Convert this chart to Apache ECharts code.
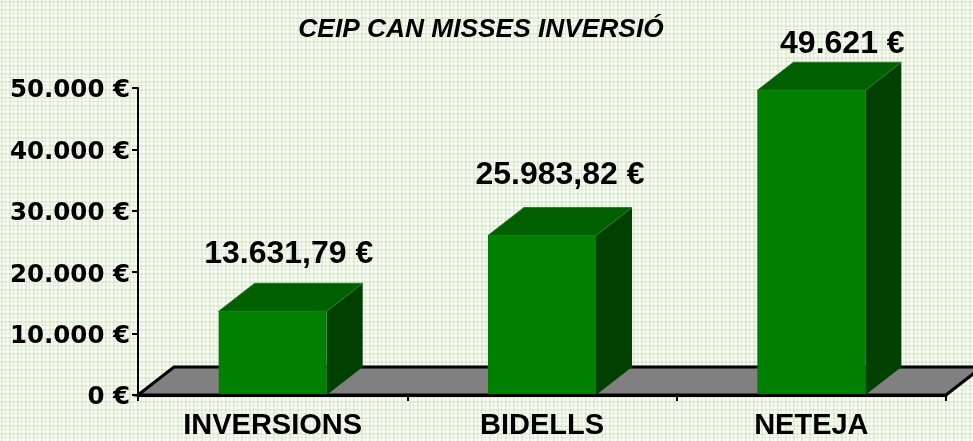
<!DOCTYPE html>
<html>
<head>
<meta charset="utf-8">
<style>
  html, body { margin: 0; padding: 0; background: #fff; }
  #chart { width: 973px; height: 441px; }
</style>
<script src="https://cdn.jsdelivr.net/npm/echarts@6/dist/echarts.min.js"></script>
</head>
<body>
<div id="chart"></div>
<script>
const categories = ['INVERSIONS', 'BIDELLS', 'NETEJA'];
const values = [13631.79, 25983.82, 49621];
const valueLabels = ['13.631,79 €', '25.983,82 €', '49.621 €'];
const titleText = 'CEIP CAN MISSES INVERSIÓ';

// 3D look, in pixels
const DEPTH_X = 36;
const DEPTH_Y = 28;
const BAR_WIDTH = 108;
// The labels were placed by hand in the original, so each has its own nudge
const LABEL_NUDGE = [[16, -29], [18, -32], [31, -18]];

// Checked paper background
const makePattern = () => {
  const c = document.createElement('canvas');
  c.width = 8;
  c.height = 8;
  const ctx = c.getContext('2d');
  ctx.fillStyle = '#fbfdf8';
  ctx.fillRect(0, 0, 8, 8);
  ctx.fillStyle = 'rgba(200,228,180,0.5)';
  ctx.fillRect(1, 0, 2, 8);
  ctx.fillRect(0, 1, 8, 2);
  ctx.fillRect(5, 0, 1, 8);
  ctx.fillRect(0, 5, 8, 1);
  return c;
};

const chart = echarts.init(document.getElementById('chart'), null, { renderer: 'canvas' });

const renderBar = (params, api) => {
  const [cx, top] = api.coord([api.value(0), api.value(1)]);
  const [, base] = api.coord([api.value(0), 0]);
  const x0 = cx - BAR_WIDTH / 2;
  const x1 = cx + BAR_WIDTH / 2;
  const [nudgeX, nudgeY] = LABEL_NUDGE[params.dataIndex];
  return {
    type: 'group',
    children: [
      {
        type: 'polygon',
        shape: { points: [[x1, top], [x1 + DEPTH_X, top - DEPTH_Y], [x1 + DEPTH_X, base - DEPTH_Y], [x1, base]] },
        style: { fill: '#004000' },
      },
      {
        type: 'polygon',
        shape: { points: [[x0, top], [x0 + DEPTH_X, top - DEPTH_Y], [x1 + DEPTH_X, top - DEPTH_Y], [x1, top]] },
        style: { fill: '#006000', stroke: '#2a7a2a', lineWidth: 1 },
      },
      {
        type: 'rect',
        shape: { x: x0, y: top, width: BAR_WIDTH, height: base - top },
        style: { fill: '#008000' },
      },
      {
        type: 'text',
        x: cx + nudgeX,
        y: top - DEPTH_Y + nudgeY,
        style: {
          text: valueLabels[params.dataIndex],
          fill: '#000',
          font: 'bold 32px "Liberation Sans"',
          align: 'center',
          verticalAlign: 'middle',
        },
      },
    ],
  };
};

// Grey floor under the bars, hangs off the category axis
const renderFloor = (params, api) => {
  const { x, y, width, height } = params.coordSys;
  const base = y + height;
  return {
    type: 'polygon',
    shape: {
      points: [[x, base], [x + DEPTH_X, base - DEPTH_Y], [x + width + DEPTH_X, base - DEPTH_Y], [x + width, base]],
    },
    style: { fill: '#808080', stroke: '#000', lineWidth: 3 },
  };
};

chart.setOption({
  animation: false,
  backgroundColor: { image: makePattern(), repeat: 'repeat' },
  title: {
    text: titleText,
    left: 476,
    top: 12,
    textAlign: 'center',
    textStyle: { fontFamily: 'Liberation Sans', fontWeight: 'bold', fontStyle: 'italic', fontSize: 26.3, color: '#000' },
  },
  grid: { left: 138, right: 27, top: 88, bottom: 46 },
  xAxis: {
    type: 'category',
    z: 5,
    data: categories,
    axisLine: { lineStyle: { color: '#000', width: 3 } },
    axisTick: { show: true, alignWithLabel: false, length: 6, lineStyle: { color: '#000', width: 2 } },
    axisLabel: { color: '#000', fontFamily: 'Liberation Sans', fontWeight: 'bold', fontSize: 29, margin: 16 },
  },
  yAxis: {
    type: 'value',
    z: 5,
    min: 0,
    max: 50000,
    interval: 10000,
    splitLine: { show: false },
    axisLine: { show: true, lineStyle: { color: '#000', width: 2 } },
    axisTick: { show: true, length: 6, lineStyle: { color: '#000', width: 2 } },
    axisLabel: {
      color: '#000',
      fontFamily: 'DejaVu Sans',
      fontWeight: 'bold',
      fontSize: 24.5,
      margin: 8,
      // short line box pushes the text a few px under the tick, like the original
      verticalAlign: 'top',
      lineHeight: 6,
      formatter: (v) => v.toLocaleString('de-DE') + ' €',
    },
  },
  series: [
    { type: 'custom', renderItem: renderFloor, data: [0], silent: true, z: 1, clip: false },
    {
      type: 'custom',
      renderItem: renderBar,
      data: values.map((v, i) => [i, v]),
      encode: { x: 0, y: 1 },
      z: 2,
      clip: false,
    },
  ],
});
</script>
</body>
</html>
